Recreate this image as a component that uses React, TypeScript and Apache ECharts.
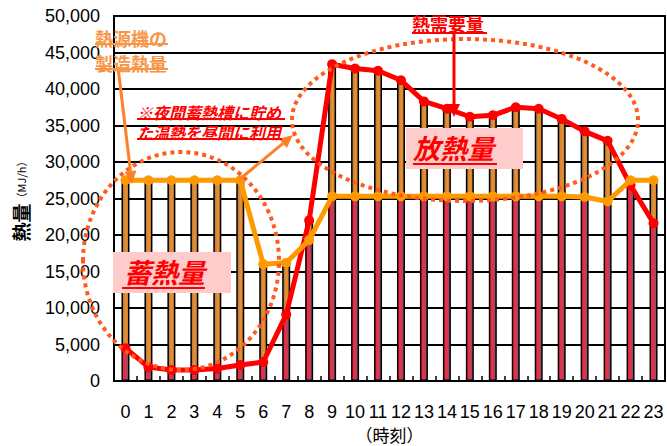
import React, { useEffect, useRef } from "react";
import * as echarts from "echarts";

const hours = ["0","1","2","3","4","5","6","7","8","9","10","11","12","13","14","15","16","17","18","19","20","21","22","23"];
// 熱需要量 (MJ/h)
const demand = [4500, 1900, 1500, 1500, 1700, 2200, 2600, 9100, 22000, 43400, 42800, 42500, 41200, 38300, 37300, 36200, 36400, 37500, 37300, 35900, 34200, 32900, 26800, 21600];
// 熱源機の製造熱量 (MJ/h)
const production = [27500, 27500, 27500, 27500, 27500, 27500, 16000, 16200, 19300, 25300, 25300, 25300, 25300, 25300, 25300, 25300, 25300, 25300, 25300, 25300, 25200, 24600, 27500, 27500];
const yTicks = { min: 0, max: 50000, interval: 5000 };

const lowerPart = demand.map((d, i) => Math.min(d, production[i]));
const upperPart = demand.map((d, i) => Math.abs(d - production[i]));

const JP = "'Noto Sans CJK JP', sans-serif";
const NUM = "'Liberation Sans', Arial, sans-serif";

function arrow(x1: number, y1: number, x2: number, y2: number, color: string, w: number, hl: number, hw: number) {
  const dx = x2 - x1, dy = y2 - y1;
  const len = Math.sqrt(dx * dx + dy * dy);
  const ux = dx / len, uy = dy / len;
  const bx = x2 - ux * hl, by = y2 - uy * hl;
  const px = -uy, py = ux;
  return [
    { type: "line", z: 100, silent: true, shape: { x1, y1, x2: bx, y2: by }, style: { stroke: color, lineWidth: w } },
    { type: "polygon", z: 100, silent: true, shape: { points: [[x2, y2], [bx + px * hw, by + py * hw], [bx - px * hw, by - py * hw]] }, style: { fill: color } },
  ];
}

function label(text: string, x: number, y: number, size: number, lh: number, color: string, italic: boolean, underlines: number[][]) {
  return [
    { type: "text", z: 101, silent: true, x, y, style: { text, fill: color, font: `${italic ? "italic " : ""}bold ${size}px ${JP}`, textAlign: "left", textVerticalAlign: "top", lineHeight: lh } },
    ...underlines.map(([x1, x2, uy]) => ({ type: "line", z: 101, silent: true, shape: { x1, y1: uy, x2, y2: uy }, style: { stroke: color, lineWidth: 2 } })),
  ];
}

export default function App() {
  const ref = useRef<HTMLDivElement>(null);
  useEffect(() => {
    if (!ref.current) return;
    const chart = echarts.init(ref.current, null, { renderer: "svg" });
    const redGrad = new echarts.graphic.LinearGradient(0, 0, 1, 0, [
      { offset: 0, color: "#e8283a" },
      { offset: 0.45, color: "#e8304a" },
      { offset: 1, color: "#6c5a74" },
    ]);
    const orangeGrad = new echarts.graphic.LinearGradient(0, 0, 1, 0, [
      { offset: 0, color: "#a07848" },
      { offset: 0.55, color: "#f09030" },
      { offset: 1, color: "#c07a30" },
    ]);
    const orangeDot = "#FF5B1F";
    const graphics: any[] = [
      { type: "ellipse", z: 99, silent: true, shape: { cx: 181, cy: 261, rx: 98, ry: 109 }, style: { fill: "none", stroke: orangeDot, lineWidth: 4, lineDash: [4, 4] } },
      { type: "ellipse", z: 99, silent: true, shape: { cx: 465, cy: 120, rx: 173, ry: 81 }, style: { fill: "none", stroke: orangeDot, lineWidth: 4, lineDash: [4, 4] } },
      { type: "rect", z: 100, silent: true, shape: { x: 406, y: 128, width: 117, height: 41 }, style: { fill: "#FFCCCC" } },
      { type: "rect", z: 100, silent: true, shape: { x: 113, y: 252, width: 118, height: 41 }, style: { fill: "#FFCCCC" } },
      ...arrow(118, 67, 132, 184, "#FF7F27", 3, 13, 6),
      ...arrow(240, 179, 293, 135, "#FF7F27", 3, 13, 6),
      ...arrow(454, 34, 454, 117, "#FF0000", 3, 13, 6),
      ...label("熱源機の\n製造熱量", 95, 25, 18, 25, "#F79646", false, [[95, 168, 44], [95, 168, 69]]),
      ...label("※夜間蓄熱槽に貯め\nた温熱を昼間に利用", 137, 102, 16, 20, "#FF0000", true, [[137, 285, 119], [137, 282, 139]]),
      ...label("熱需要量", 412, 14, 18, 18, "#FF0000", false, [[412, 487, 33]]),
      ...label("放熱量", 413, 134, 27, 27, "#FF0000", true, [[413, 497, 164]]),
      ...label("蓄熱量", 124, 258, 27, 27, "#FF0000", true, [[122, 205, 288]]),
    ];
    chart.setOption({
      animation: false,
      grid: { left: 114, right: 2, top: 16, bottom: 65, show: true, borderColor: "#000", borderWidth: 2, containLabel: false, outerBoundsMode: "none" },
      xAxis: {
        type: "category",
        data: hours,
        boundaryGap: true,
        axisLine: { lineStyle: { color: "#000", width: 2 } },
        axisTick: { show: true, inside: true, length: 5, lineStyle: { color: "#000", width: 1.5 } },
        axisLabel: { interval: 0, color: "#000", fontSize: 18, fontFamily: NUM, margin: 22 },
        name: "（時刻）",
        nameLocation: "middle",
        nameGap: 44,
        nameTextStyle: { color: "#000", fontSize: 17, fontFamily: JP },
      },
      yAxis: {
        type: "value",
        min: yTicks.min,
        max: yTicks.max,
        interval: yTicks.interval,
        axisLine: { show: true, lineStyle: { color: "#000", width: 2 } },
        axisTick: { show: false },
        splitLine: { lineStyle: { color: "#000", width: 2 } },
        axisLabel: { color: "#000", fontSize: 18, fontFamily: NUM, margin: 14, formatter: (v: number) => v.toLocaleString("en-US") },
        name: "{big|熱量}{small|（MJ/h）}",
        nameLocation: "middle",
        nameRotate: 90,
        nameGap: 84,
        nameTextStyle: {
          rich: {
            big: { fontSize: 19, fontWeight: "bold", fontFamily: JP, color: "#000" },
            small: { fontSize: 11, fontFamily: JP, color: "#000" },
          },
        },
      },
      series: [
        { type: "bar", stack: "s", data: lowerPart, barWidth: 8, itemStyle: { color: redGrad, borderColor: "#000", borderWidth: 1.5 } },
        { type: "bar", stack: "s", data: upperPart, barWidth: 8, itemStyle: { color: orangeGrad, borderColor: "#000", borderWidth: 1.5 } },
        { type: "line", data: demand, symbol: "circle", symbolSize: 10, lineStyle: { color: "#FF0000", width: 5 }, itemStyle: { color: "#FF0000" }, z: 3 },
        { type: "line", data: production, symbol: "circle", symbolSize: 10, lineStyle: { color: "#FF9900", width: 5 }, itemStyle: { color: "#FF9900" }, z: 4 },
      ],
      graphic: { elements: graphics },
    });
    return () => chart.dispose();
  }, []);
  return <div ref={ref} style={{ position: "absolute", left: 0, top: 0, width: 667, height: 446 }} />;
}
